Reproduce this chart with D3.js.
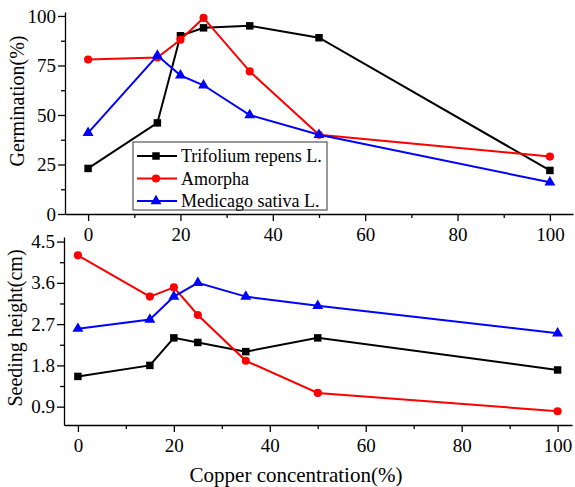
<!DOCTYPE html>
<html>
<head>
<meta charset="utf-8">
<script src="https://cdn.jsdelivr.net/npm/d3@7"></script>
<style>
  body { margin: 0; background: #fff; }
  svg text { font-family: 'Liberation Serif', 'Times New Roman', serif !important; }
</style>
</head>
<body>
<script>
// copper concentration levels
var conc = [0, 15, 20, 25, 35, 50, 100];
var seriesNames = ["Trifolium repens L.", "Amorpha", "Medicago sativa L."];

// germination (%)
var germTrifolium = [23, 46, 90, 94, 95, 89, 22];
var germAmorpha = [78, 79, 88, 99, 72, 40, 29];
var germMedicago = [41, 80, 70, 65, 50, 40, 16];

// seeding height (cm)
var hTrifolium = [1.56, 1.8, 2.4, 2.3, 2.1, 2.4, 1.7];
var hAmorpha = [4.2, 3.3, 3.5, 2.9, 1.9, 1.2, 0.8];
var hMedicago = [2.6, 2.8, 3.3, 3.6, 3.3, 3.1, 2.5];

var topTicks = [0, 25, 50, 75, 100];
var bottomTicks = [0.9, 1.8, 2.7, 3.6, 4.5];
var xTicks = [0, 20, 40, 60, 80, 100];

var colors = ["#000000", "#ff0000", "#0000ff"];
var shapes = [d3.symbolSquare, d3.symbolCircle, d3.symbolTriangle];
var sizes = [56, 52, 52];
var FONT = "Liberation Serif";

var width = 575, height = 487;
var svg = d3.select("body").append("svg")
    .attr("width", width)
    .attr("height", height)
    .attr("font-family", FONT);

function drawPanel(opts) {
    var x = d3.scaleLinear().domain(opts.xDomain).range([opts.left, opts.right]);
    var y = d3.scaleLinear().domain(opts.yDomain).range([opts.bottom, opts.top]);
    var g = svg.append("g");

    // x axis
    g.append("g")
        .attr("transform", "translate(0," + opts.bottom + ")")
        .call(d3.axisBottom(x).tickValues(xTicks).tickSize(7).tickPadding(7).tickSizeOuter(0));
    g.append("g")
        .attr("transform", "translate(0," + opts.bottom + ")")
        .call(d3.axisBottom(x).tickValues(d3.range(10, 100, 20)).tickSize(4).tickFormat("").tickSizeOuter(0))
        .select(".domain").remove();

    // y axis
    g.append("g")
        .attr("transform", "translate(" + opts.left + ",0)")
        .call(d3.axisLeft(y).tickValues(opts.yTicks).tickSize(7).tickPadding(2).tickSizeOuter(0)
            .tickFormat(opts.yFormat));
    g.append("g")
        .attr("transform", "translate(" + opts.left + ",0)")
        .call(d3.axisLeft(y).tickValues(opts.yMinor).tickSize(4).tickFormat("").tickSizeOuter(0))
        .select(".domain").remove();

    g.selectAll("g").attr("font-family", FONT).attr("font-size", 19);
    g.selectAll(".tick line, .domain").attr("stroke", "#000").attr("stroke-width", 1.3);
    g.selectAll(".tick text").attr("fill", "#000");

    opts.series.forEach(function (vals, i) {
        var pts = conc.map(function (c, j) { return [c, vals[j]]; });
        g.append("path")
            .datum(pts)
            .attr("fill", "none")
            .attr("stroke", colors[i])
            .attr("stroke-width", 2)
            .attr("d", d3.line().x(function (d) { return x(d[0]); }).y(function (d) { return y(d[1]); }));
        g.selectAll(".m" + i)
            .data(pts)
            .enter().append("path")
            .attr("transform", function (d) { return "translate(" + x(d[0]) + "," + y(d[1]) + ")"; })
            .attr("d", d3.symbol().type(shapes[i]).size(sizes[i]))
            .attr("fill", colors[i]);
    });

    g.append("text")
        .attr("transform", "translate(" + opts.ylabelX + "," + opts.ylabelY + ") rotate(-90)")
        .attr("text-anchor", "middle")
        .attr("dominant-baseline", "central")
        .attr("font-size", 20)
        .text(opts.ylabel);
    return { x: x, y: y };
}

drawPanel({
    left: 65, right: 573, top: 12, bottom: 214,
    xDomain: [-5, 105], yDomain: [0, 102],
    yTicks: topTicks, yMinor: [12.5, 37.5, 62.5, 87.5],
    yFormat: d3.format("d"),
    series: [germTrifolium, germAmorpha, germMedicago],
    ylabel: "Germination(%)", ylabelX: 17, ylabelY: 101
});

drawPanel({
    left: 64, right: 572, top: 237, bottom: 425,
    xDomain: [-2.9, 103], yDomain: [0.5, 4.6],
    yTicks: bottomTicks, yMinor: [1.35, 2.25, 3.15, 4.05],
    yFormat: d3.format(".1f"),
    series: [hTrifolium, hAmorpha, hMedicago],
    ylabel: "Seeding height(cm)", ylabelX: 15, ylabelY: 328
});

svg.append("text")
    .attr("x", 296).attr("y", 475)
    .attr("text-anchor", "middle")
    .attr("dominant-baseline", "central")
    .attr("font-size", 21)
    .text("Copper concentration(%)");

// legend
var lg = svg.append("g").attr("transform", "translate(133,142)");
lg.append("rect").attr("width", 194).attr("height", 68)
    .attr("fill", "#fff").attr("stroke", "#555").attr("stroke-width", 1.2);
seriesNames.forEach(function (name, i) {
    var ry = 14 + i * 22.5;
    lg.append("line").attr("x1", 4).attr("x2", 44).attr("y1", ry).attr("y2", ry)
        .attr("stroke", colors[i]).attr("stroke-width", 2);
    lg.append("path").attr("transform", "translate(23," + ry + ")")
        .attr("d", d3.symbol().type(shapes[i]).size(sizes[i])).attr("fill", colors[i]);
    lg.append("text").attr("x", 48).attr("y", ry).attr("dominant-baseline", "central")
        .attr("font-size", 18).text(name);
});
</script>
</body>
</html>
